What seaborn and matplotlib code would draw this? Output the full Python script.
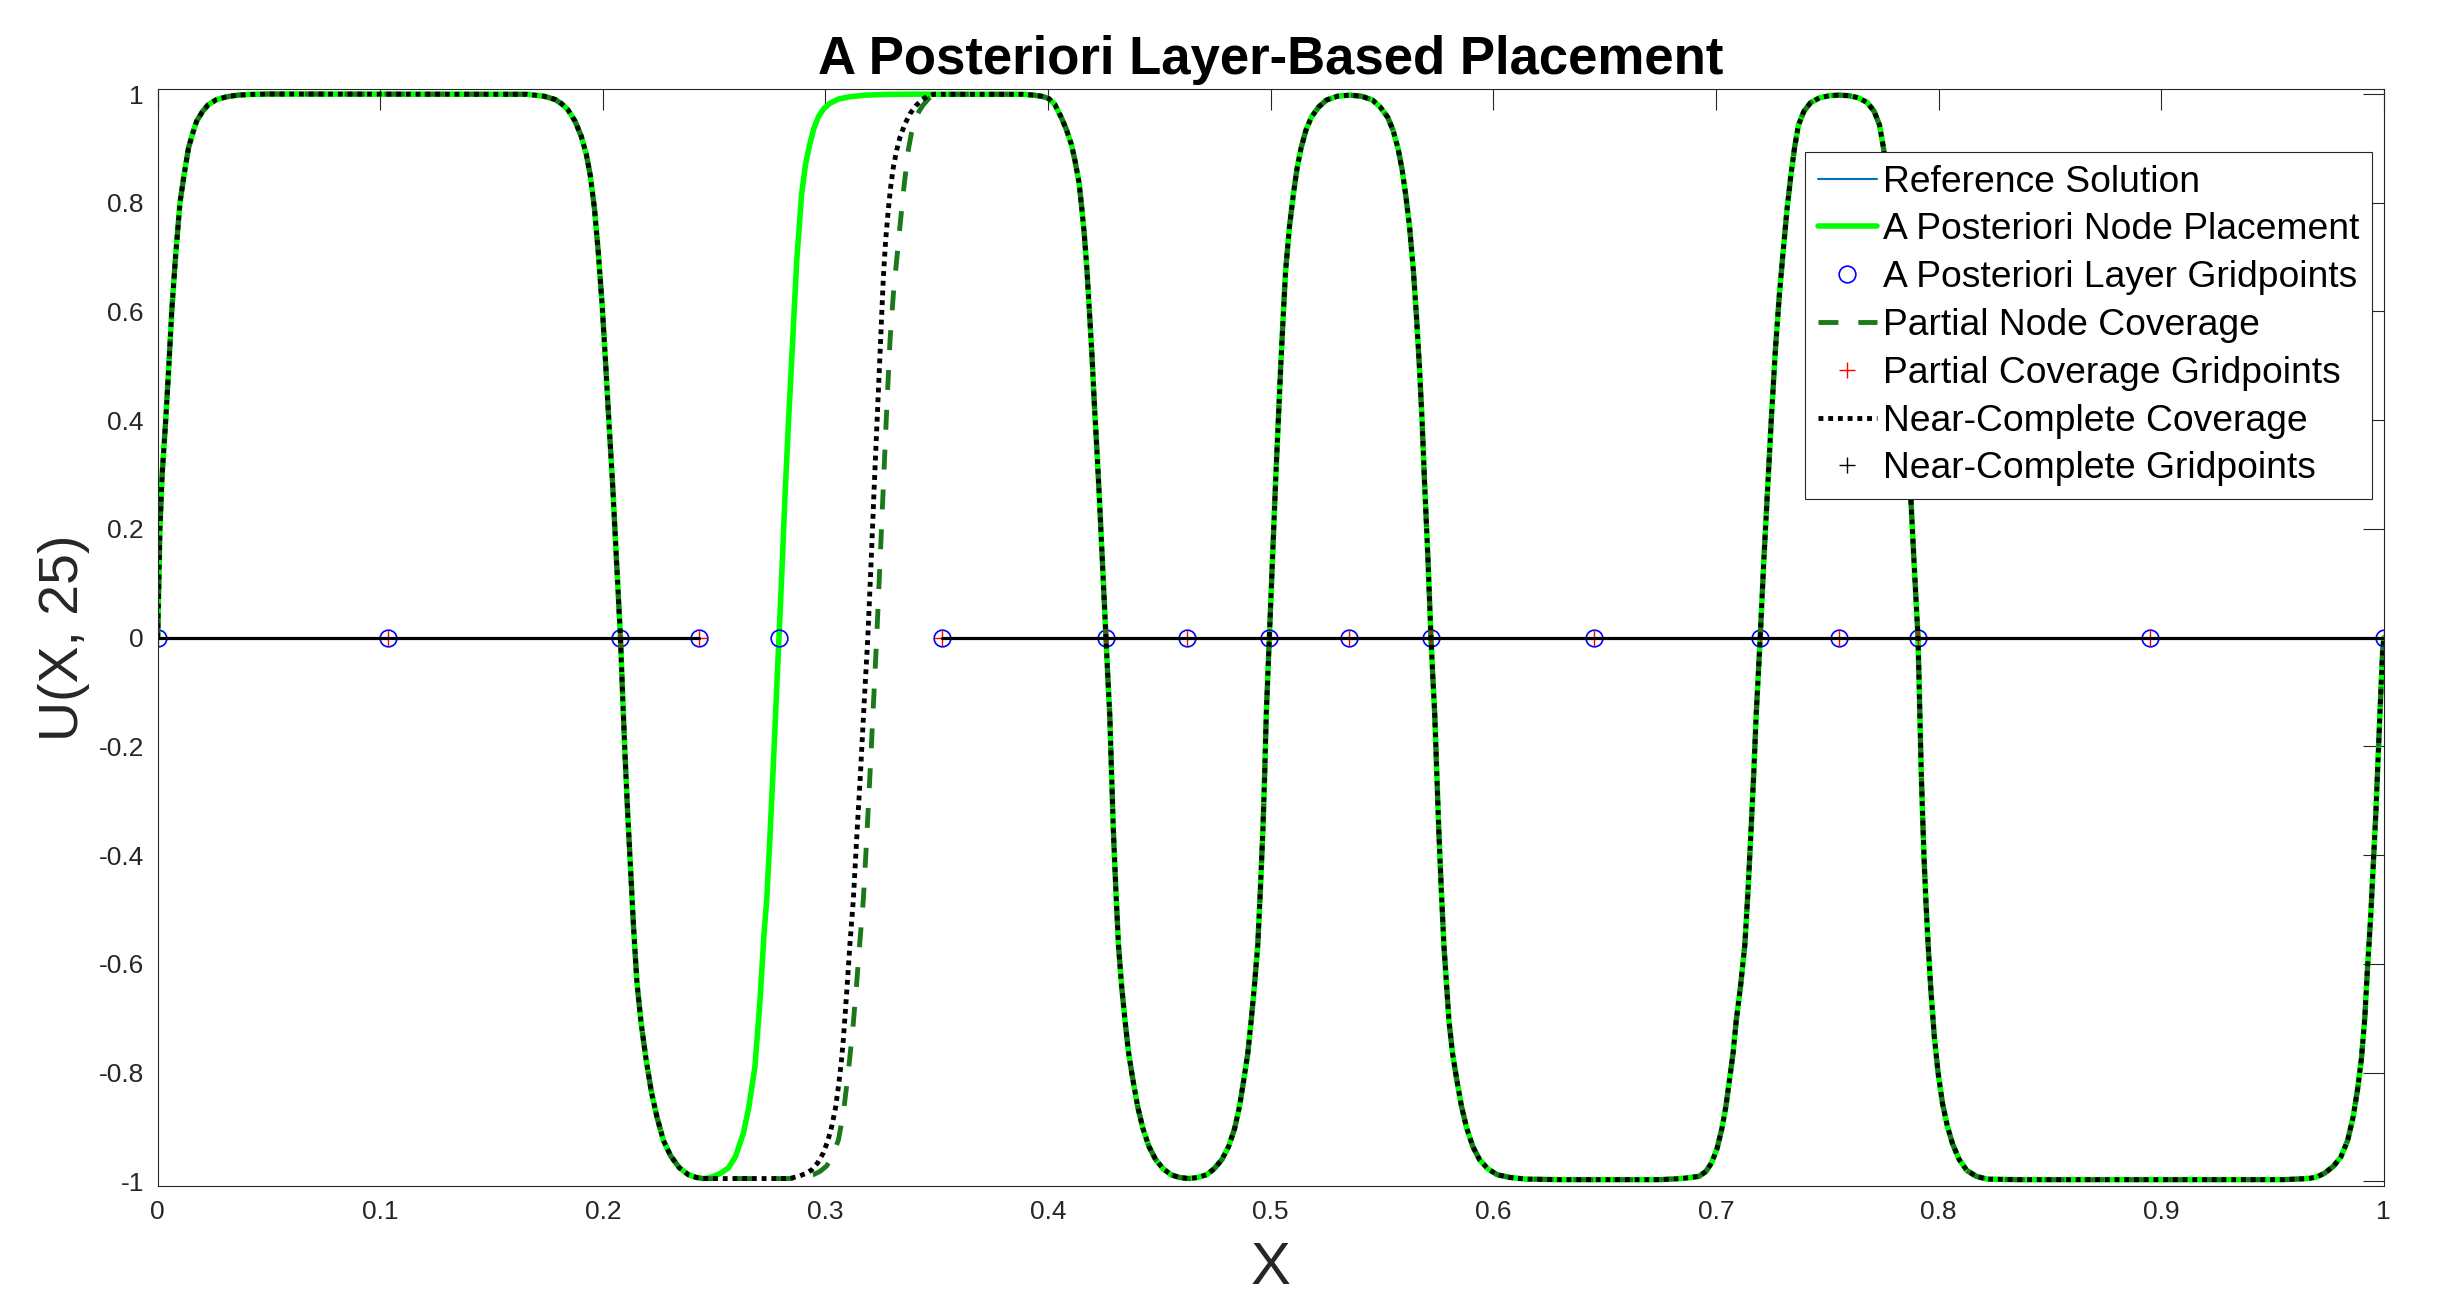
import numpy as np
import pandas as pd
import matplotlib
matplotlib.use("Agg")
import matplotlib.pyplot as plt
import seaborn as sns
from matplotlib.lines import Line2D

# ---------------- data ----------------
# shared left part of every solution curve (x = 0 ... 0.245)
x_left = [0.0, 0.001, 0.002, 0.0036, 0.005, 0.0063, 0.008, 0.010, 0.0118, 0.0138,
          0.0155, 0.0175, 0.0200, 0.0226, 0.0265, 0.031, 0.036, 0.042, 0.050,
          0.166, 0.1735, 0.1785, 0.1815, 0.1843, 0.1875, 0.1903, 0.1925, 0.1943, 0.1962,
          0.1979, 0.1997, 0.2013, 0.2028, 0.2043, 0.2060, 0.2079, 0.2088, 0.2099, 0.2111,
          0.2124, 0.2138, 0.2153, 0.2172, 0.2194, 0.2218, 0.2243, 0.2272, 0.2304, 0.2343,
          0.2384, 0.2420, 0.2450]
y_left = [0.0, 0.2, 0.3, 0.4, 0.5, 0.6, 0.7, 0.8, 0.85, 0.9,
          0.925, 0.95, 0.967, 0.98, 0.99, 0.995, 0.998, 0.9993, 1.0,
          0.9995, 0.996, 0.99, 0.982, 0.971, 0.950, 0.922, 0.89, 0.851, 0.79,
          0.710, 0.61, 0.499, 0.39, 0.287, 0.15, 0.0, -0.1, -0.212, -0.32,
          -0.424, -0.535, -0.635, -0.71, -0.776, -0.836, -0.882, -0.925, -0.953, -0.975,
          -0.988, -0.993, -0.995]

# middle part where the three approximations differ
x_green_mid = [0.2475, 0.2497, 0.2530, 0.2565, 0.2595, 0.2631, 0.2655, 0.2683, 0.2706,
               0.2724, 0.2736, 0.2750, 0.2765, 0.2778, 0.2791, 0.2804, 0.2818, 0.2833,
               0.2848, 0.2871, 0.2893, 0.2910, 0.2930, 0.2948, 0.2968, 0.2992, 0.3020,
               0.3060, 0.3110, 0.3180, 0.3280, 0.3410]
y_green_mid = [-0.994, -0.991, -0.985, -0.975, -0.955, -0.912, -0.865, -0.789, -0.666,
               -0.544, -0.482, -0.37, -0.24, -0.12, 0.0, 0.12, 0.26, 0.39,
               0.511, 0.695, 0.817, 0.87, 0.909, 0.937, 0.958, 0.973, 0.983,
               0.991, 0.995, 0.998, 0.9993, 0.9998]

x_partial_mid = [0.2840, 0.2885, 0.2945, 0.2975, 0.3005, 0.3033, 0.3058, 0.3080, 0.3102,
                 0.3125, 0.3140, 0.3155, 0.3170, 0.3185, 0.3200, 0.3215, 0.3230, 0.3245,
                 0.3260, 0.3275, 0.3290, 0.3305, 0.3327, 0.3349, 0.3372, 0.3386, 0.3402,
                 0.3420, 0.3439, 0.3460]
y_partial_mid = [-0.995, -0.993, -0.988, -0.982, -0.972, -0.952, -0.924, -0.875, -0.801,
                 -0.709, -0.636, -0.556, -0.482, -0.37, -0.25, -0.125, 0.0, 0.14,
                 0.28, 0.42, 0.548, 0.633, 0.725, 0.817, 0.897, 0.928, 0.952,
                 0.968, 0.980, 0.990]

x_near_mid = [0.2840, 0.2885, 0.2915, 0.2938, 0.2965, 0.2990, 0.3010, 0.3028, 0.3045,
              0.3058, 0.3070, 0.3080, 0.3095, 0.3110, 0.3125, 0.3140, 0.3157, 0.3173,
              0.3190, 0.3205, 0.3218, 0.3232, 0.3245, 0.3260, 0.3270, 0.3282, 0.3293,
              0.3305, 0.3320, 0.3335, 0.3357, 0.3380, 0.3405, 0.3432, 0.3458]
y_near_mid = [-0.995, -0.990, -0.985, -0.979, -0.966, -0.948, -0.926, -0.899, -0.865,
              -0.826, -0.785, -0.740, -0.654, -0.562, -0.482, -0.37, -0.25, -0.125,
              0.0, 0.14, 0.27, 0.40, 0.517, 0.664, 0.73, 0.787, 0.83,
              0.866, 0.897, 0.921, 0.945, 0.964, 0.978, 0.989, 0.996]

# shared right part (x = 0.348 ... 1)
x_right = [0.3484, 0.3885, 0.3935, 0.3970, 0.4002, 0.4030, 0.4059, 0.4080, 0.4105, 0.4122,
           0.4139, 0.4150, 0.4162, 0.4174, 0.4185, 0.4197, 0.4208, 0.4220, 0.4231, 0.4245,
           0.4260, 0.4268, 0.4277, 0.4285, 0.4293, 0.4304, 0.4316, 0.4330, 0.4346, 0.4362,
           0.4380, 0.4402, 0.4426, 0.4453, 0.4483, 0.4517, 0.4552, 0.4590, 0.4632, 0.4672,
           0.4712, 0.4746, 0.4781, 0.4811, 0.4838, 0.4860, 0.4880, 0.4897, 0.4912, 0.4927,
           0.4942, 0.4954, 0.4965, 0.4973, 0.4980, 0.4987, 0.4994, 0.5008, 0.5022, 0.5034,
           0.5045, 0.5056, 0.5067, 0.5084, 0.5102, 0.5118, 0.5136, 0.5158, 0.5182, 0.5215,
           0.5251, 0.5300, 0.5354, 0.5408, 0.5457, 0.5492, 0.5526, 0.5550, 0.5572, 0.5590,
           0.5606, 0.5624, 0.5641, 0.5655, 0.5668, 0.5680, 0.5691, 0.5706, 0.5720, 0.5728,
           0.5737, 0.5746, 0.5755, 0.5766, 0.5778, 0.5790, 0.5801, 0.5817, 0.5835, 0.5857,
           0.5881, 0.5908, 0.5938, 0.5975, 0.6018, 0.6075, 0.6145, 0.630, 0.675, 0.6845,
           0.6924, 0.6955, 0.6981, 0.7005, 0.7027, 0.7045, 0.7062, 0.7077, 0.7091, 0.7111,
           0.7130, 0.7145, 0.7158, 0.7170, 0.7181, 0.7190, 0.7199, 0.7215, 0.7234, 0.7250,
           0.7268, 0.7285, 0.7302, 0.7320, 0.7337, 0.7354, 0.7371, 0.7395, 0.7425, 0.7465,
           0.7510, 0.7553, 0.7596, 0.7641, 0.7681, 0.7711, 0.7735, 0.7752, 0.7769, 0.7786,
           0.7804, 0.7821, 0.7838, 0.7856, 0.7872, 0.7890, 0.7908, 0.7915, 0.7922, 0.7928,
           0.7935, 0.7944, 0.7954, 0.7966, 0.7981, 0.7998, 0.8018, 0.8040, 0.8063, 0.8093,
           0.8127, 0.8170, 0.8218, 0.835, 0.955, 0.9662, 0.9700, 0.9735, 0.9775, 0.9808,
           0.9838, 0.9863, 0.9883, 0.9900, 0.9915, 0.9927, 0.9942, 0.9955, 0.9965, 0.9973,
           0.9985, 0.9995, 1.0]
y_right = [0.9995, 0.9995, 0.998, 0.996, 0.992, 0.981, 0.957, 0.937, 0.907, 0.875,
           0.837, 0.795, 0.745, 0.68, 0.605, 0.52, 0.428, 0.34, 0.252, 0.13,
           0.0, -0.07, -0.142, -0.25, -0.353, -0.46, -0.565, -0.64, -0.706, -0.765,
           -0.811, -0.862, -0.903, -0.936, -0.960, -0.977, -0.988, -0.993, -0.995, -0.993,
           -0.988, -0.977, -0.960, -0.936, -0.903, -0.862, -0.811, -0.765, -0.706, -0.64,
           -0.565, -0.46, -0.353, -0.25, -0.142, -0.07, 0.0, 0.15, 0.287, 0.40,
           0.499, 0.59, 0.675, 0.755, 0.816, 0.862, 0.900, 0.933, 0.957, 0.976,
           0.989, 0.996, 0.998, 0.996, 0.989, 0.976, 0.957, 0.933, 0.900, 0.862,
           0.816, 0.755, 0.675, 0.59, 0.499, 0.40, 0.287, 0.15, 0.0, -0.07,
           -0.142, -0.25, -0.353, -0.46, -0.565, -0.64, -0.706, -0.765, -0.811, -0.862,
           -0.903, -0.936, -0.960, -0.977, -0.988, -0.993, -0.996, -0.997, -0.997, -0.995,
           -0.991, -0.982, -0.966, -0.94, -0.903, -0.862, -0.811, -0.765, -0.706, -0.64,
           -0.565, -0.46, -0.353, -0.25, -0.142, -0.07, 0.0, 0.14, 0.287, 0.41,
           0.534, 0.63, 0.710, 0.79, 0.851, 0.903, 0.943, 0.968, 0.984, 0.993,
           0.997, 0.998, 0.997, 0.993, 0.984, 0.968, 0.943, 0.903, 0.851, 0.79,
           0.710, 0.63, 0.534, 0.41, 0.287, 0.14, 0.0, -0.12, -0.240, -0.32,
           -0.404, -0.49, -0.569, -0.65, -0.733, -0.80, -0.857, -0.899, -0.931, -0.960,
           -0.980, -0.991, -0.996, -0.997, -0.997, -0.995, -0.992, -0.985, -0.972, -0.955,
           -0.925, -0.881, -0.83, -0.774, -0.70, -0.610, -0.51, -0.404, -0.32, -0.240,
           -0.12, -0.026, 0.0]

# grid points
layer_gridpoints = [0.0, 0.1035, 0.2079, 0.2430, 0.2791, 0.3523, 0.4260, 0.4624, 0.4992,
                    0.5351, 0.5720, 0.6452, 0.7198, 0.7551, 0.7908, 0.8950, 1.0]
partial_gridpoints = [0.0, 0.1035, 0.2079, 0.2430, 0.3523, 0.4260, 0.4624, 0.4992,
                      0.5351, 0.5720, 0.6452, 0.7198, 0.7551, 0.7908, 0.8950, 1.0]
near_cover_seg1 = [0.0, 0.2430]
near_cover_seg2 = [0.3523, 1.0]

xticks = [0.0, 0.1, 0.2, 0.3, 0.4, 0.5, 0.6, 0.7, 0.8, 0.9, 1.0]
xtick_labels = ['0', '0.1', '0.2', '0.3', '0.4', '0.5', '0.6', '0.7', '0.8', '0.9', '1']
yticks = [-1.0, -0.8, -0.6, -0.4, -0.2, 0.0, 0.2, 0.4, 0.6, 0.8, 1.0]
ytick_labels = ['-1', '-0.8', '-0.6', '-0.4', '-0.2', '0', '0.2', '0.4', '0.6', '0.8', '1']

labels = ['Reference Solution', 'A Posteriori Node Placement', 'A Posteriori Layer Gridpoints',
          'Partial Node Coverage', 'Partial Coverage Gridpoints', 'Near-Complete Coverage',
          'Near-Complete Gridpoints']

# ---------------- assemble curves ----------------
x_green = x_left + x_green_mid + x_right
y_green = y_left + y_green_mid + y_right
x_partial = x_left + x_partial_mid + x_right
y_partial = y_left + y_partial_mid + y_right
x_near = x_left + x_near_mid + x_right
y_near = y_left + y_near_mid + y_right
# the reference solution lies underneath the a-posteriori curve
x_ref, y_ref = x_green, y_green

# ---------------- style ----------------
sns.set_theme(style="white")
plt.rcParams['font.family'] = ['Liberation Sans', 'DejaVu Sans']
plt.rcParams['axes.edgecolor'] = '#262626'

W, H = 2437, 1304
fig = plt.figure(figsize=(W / 100, H / 100), dpi=100)
ax = fig.add_axes([157.7 / W, 1 - 1186 / H, 2226 / W, 1096.7 / H])

handles = []
sns.lineplot(x=x_ref, y=y_ref, ax=ax, color='#0072BD', linewidth=1.5,
             sort=False, estimator=None)
handles.append(ax.lines[-1])

sns.lineplot(x=x_green, y=y_green, ax=ax, color='#00FF00', linewidth=4.0,
             sort=False, estimator=None)
handles.append(ax.lines[-1])

sns.lineplot(x=layer_gridpoints, y=[0.0] * len(layer_gridpoints), ax=ax, linestyle='none',
             marker='o', markersize=12, markerfacecolor='none', markeredgecolor='#0000FF',
             markeredgewidth=1.2, sort=False, estimator=None)
handles.append(ax.lines[-1])

sns.lineplot(x=x_partial, y=y_partial, ax=ax, color='#1A7A1A', linewidth=3.5,
             linestyle=(0, (4.1, 4.1)), sort=False, estimator=None)
ax.lines[-1].set_dash_capstyle('butt')
handles.append(ax.lines[-1])

sns.lineplot(x=partial_gridpoints, y=[0.0] * len(partial_gridpoints), ax=ax, linestyle='none',
             marker='+', markersize=11, markeredgecolor='#FF0000', color='#FF0000',
             markeredgewidth=1.0, sort=False, estimator=None)
handles.append(ax.lines[-1])

sns.lineplot(x=x_near, y=y_near, ax=ax, color='black', linewidth=3.5,
             linestyle=(0, (1, 1)), sort=False, estimator=None)
ax.lines[-1].set_dash_capstyle('butt')
handles.append(ax.lines[-1])

for seg in (near_cover_seg1, near_cover_seg2):
    sns.lineplot(x=seg, y=[0.0] * len(seg), ax=ax, color='black', linewidth=2.3,
                 sort=False, estimator=None)
handles.append(Line2D([], [], color='black', marker='+', linestyle='none',
                      markersize=11, markeredgewidth=1.0))

# ---------------- axes ----------------
ax.set_xlim(0, 1)
ax.set_ylim(-1.0087, 1.0087)
ax.set_xticks(xticks)
ax.set_xticklabels(xtick_labels)
ax.set_yticks(yticks)
ax.set_yticklabels(ytick_labels)
ax.tick_params(direction='in', length=15, width=0.8, top=True, right=True,
               labelsize=19, pad=10, color='#262626', labelcolor='#262626')
for s in ax.spines.values():
    s.set_visible(True)
    s.set_linewidth(0.8)
    s.set_color('#262626')

ax.set_title('A Posteriori Layer-Based Placement', fontsize=38, fontweight='bold',
             color='black', pad=11)
ax.set_xlabel('X', fontsize=43, color='#262626', labelpad=12)
ax.set_ylabel('U(X, 25)', fontsize=40, color='#262626', labelpad=6)

leg = ax.legend(handles=handles, labels=labels, loc='upper right',
                bbox_to_anchor=(0.9946, 0.9426), borderaxespad=0, fontsize=26.8,
                labelspacing=0.343, borderpad=0.335, handlelength=1.6, handletextpad=0.15,
                numpoints=1, frameon=True, fancybox=False, framealpha=1)
leg.get_frame().set_edgecolor('#262626')
leg.get_frame().set_linewidth(0.8)
for t in leg.get_texts():
    t.set_color('black')

fig.savefig('out.png', dpi=100)
